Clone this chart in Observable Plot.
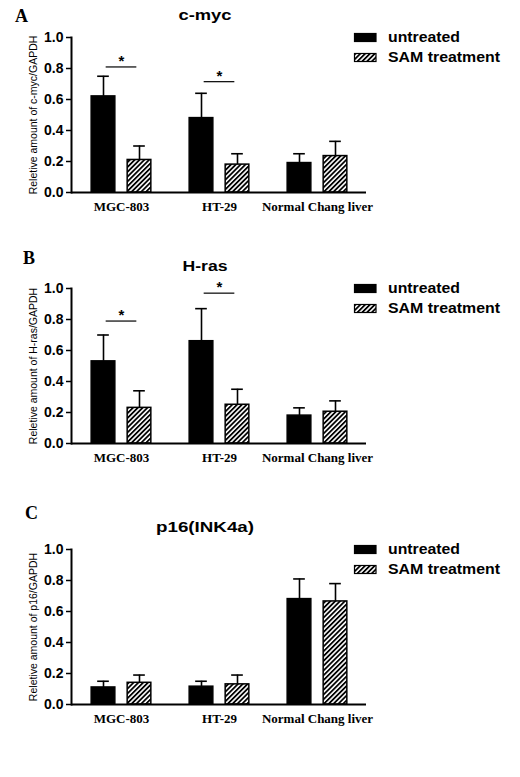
<!DOCTYPE html>
<html>
<head>
<meta charset="utf-8">
<script src="https://cdn.jsdelivr.net/npm/d3@7"></script>
<script src="https://cdn.jsdelivr.net/npm/@observablehq/plot@0.6"></script>
<style>
  body { margin: 0; background: #fff; }
  #page { position: relative; width: 520px; height: 777px; overflow: hidden; background: #fff; }
  .panel { position: absolute; left: 0; width: 520px; height: 250px; }
  .panel svg { position: absolute; left: 0; top: 0; }
  .panel svg.overlay { top: -20px; }
</style>
</head>
<body>
<svg width="0" height="0" style="position:absolute">
  <defs>
    <pattern id="hatch" patternUnits="userSpaceOnUse" width="3.4" height="3.4" patternTransform="rotate(45)">
      <rect width="3.4" height="3.4" fill="white"></rect>
      <line x1="0.9" y1="0" x2="0.9" y2="3.4" stroke="black" stroke-width="1.8"></line>
    </pattern>
  </defs>
</svg>
<div id="page"></div>
<script>
// Cell lines and treatments
const groups = ["MGC-803", "HT-29", "Normal Chang liver"];
const treatments = ["untreated", "SAM treatment"];
const yTicks = [0, 0.2, 0.4, 0.6, 0.8, 1.0];

// c-myc: means and error (SD) per cell line
const cmycUntreated = [0.62, 0.48, 0.19];
const cmycUntreatedErr = [0.13, 0.16, 0.06];
const cmycSam = [0.21, 0.18, 0.235];
const cmycSamErr = [0.09, 0.07, 0.095];
const cmycSig = [0.81, 0.715, null];

// H-ras
const hrasUntreated = [0.53, 0.66, 0.18];
const hrasUntreatedErr = [0.17, 0.21, 0.05];
const hrasSam = [0.23, 0.25, 0.205];
const hrasSamErr = [0.11, 0.10, 0.07];
const hrasSig = [0.79, 0.97, null];

// p16(INK4a)
const p16Untreated = [0.11, 0.115, 0.68];
const p16UntreatedErr = [0.04, 0.035, 0.13];
const p16Sam = [0.14, 0.13, 0.665];
const p16SamErr = [0.05, 0.06, 0.115];
const p16Sig = [null, null, null];

const panels = [
  {letter: "A", title: "c-myc", ylabel: "Reletive amount of c-myc/GAPDH",
   untreated: cmycUntreated, untreatedErr: cmycUntreatedErr, sam: cmycSam, samErr: cmycSamErr, sig: cmycSig,
   top: 0, letterX: 15, letterY: 22, titleY: 19.5, titleLen: 53, titleSize: 14},
  {letter: "B", title: "H-ras", ylabel: "Reletive amount of H-ras/GAPDH",
   untreated: hrasUntreated, untreatedErr: hrasUntreatedErr, sam: hrasSam, samErr: hrasSamErr, sig: hrasSig,
   top: 251, letterX: 23, letterY: 12.5, titleY: 20, titleLen: 45, titleSize: 14},
  {letter: "C", title: "p16(INK4a)", ylabel: "Reletive amount of p16/GAPDH",
   untreated: p16Untreated, untreatedErr: p16UntreatedErr, sam: p16Sam, samErr: p16SamErr, sig: p16Sig,
   top: 512, letterX: 25, letterY: 6.5, titleY: 19.5, titleLen: 98, titleSize: 15}
];

// layout
const W = 520, H = 222;
const ml = 71, mr = 154, mt = 37, mb = 30;
const half = (W - ml - mr) / groups.length / 2;
const barW = 24, gap = 12;
const off = gap / 2 + barW / 2;   // bar centre offset from group centre
const capW = 12, sigHalf = 15.5;
const ovShift = 20;               // overlay svg starts 20px above the panel

const sans = "'Liberation Sans', Arial, sans-serif";
const serif = "'Liberation Serif', 'Times New Roman', serif";

function drawPanel(p) {
  const rows = groups.flatMap((g, i) => [
    {group: g, treatment: treatments[0], value: p.untreated[i], err: p.untreatedErr[i]},
    {group: g, treatment: treatments[1], value: p.sam[i], err: p.samErr[i]}
  ]);
  const un = rows.filter(d => d.treatment === treatments[0]);
  const sam = rows.filter(d => d.treatment === treatments[1]);
  const sig = groups.map((g, i) => ({group: g, y: p.sig[i]})).filter(d => d.y != null);

  const plot = Plot.plot({
    width: W,
    height: H,
    marginLeft: ml,
    marginRight: mr,
    marginTop: mt,
    marginBottom: mb,
    style: {fontFamily: sans, fontSize: "10px", color: "black", background: "transparent"},
    x: {domain: groups, padding: 0},
    y: {domain: [0, 1]},
    marks: [
      // error bars (drawn first so bar tops cover the stems)
      Plot.ruleX(un, {x: "group", y1: "value", y2: d => d.value + d.err, dx: -off, stroke: "black", strokeWidth: 1.6}),
      Plot.ruleX(sam, {x: "group", y1: "value", y2: d => d.value + d.err, dx: off, stroke: "black", strokeWidth: 1.6}),
      Plot.tickY(un, {x: "group", y: d => d.value + d.err, insetLeft: half - off - capW / 2, insetRight: half + off - capW / 2, stroke: "black", strokeWidth: 1.6}),
      Plot.tickY(sam, {x: "group", y: d => d.value + d.err, insetLeft: half + off - capW / 2, insetRight: half - off - capW / 2, stroke: "black", strokeWidth: 1.6}),
      // bars
      Plot.barY(un, {x: "group", y: "value", fill: "black", stroke: "black", strokeWidth: 1.5,
        insetLeft: half - off - barW / 2, insetRight: half + off - barW / 2}),
      Plot.barY(sam, {x: "group", y: "value", fill: "url(#hatch)", stroke: "black", strokeWidth: 1.5,
        insetLeft: half + off - barW / 2, insetRight: half - off - barW / 2}),
      // significance brackets
      Plot.tickY(sig, {x: "group", y: "y", insetLeft: half - sigHalf, insetRight: half - sigHalf, stroke: "black", strokeWidth: 1.2}),
      Plot.text(sig, {x: "group", y: "y", text: () => "*", dy: -1, lineAnchor: "bottom", fontSize: 15, fontWeight: "bold", fill: "black"}),
      // axes
      Plot.ruleY([0], {stroke: "black", strokeWidth: 2}),
      Plot.frame({anchor: "left", stroke: "black", strokeWidth: 2}),
      Plot.axisY({ticks: yTicks, tickFormat: d3.format(".1f"), tickSize: 5, tickPadding: 3, strokeWidth: 1.5,
        fontSize: 14, fontWeight: "bold", label: null}),
      Plot.axisX({tickSize: 0, tickPadding: 9, fontSize: 13, fontWeight: "bold", fontFamily: serif, label: null}),
      Plot.text([p.ylabel], {frameAnchor: "left", rotate: -90, dx: -38, textAnchor: "middle", fontSize: 10.5, fill: "black"})
    ]
  });

  const div = document.createElement("div");
  div.className = "panel";
  div.style.top = p.top + "px";
  div.appendChild(plot);

  // letter, title and legend overlay
  const ov = d3.create("svg").attr("class", "overlay").attr("width", W).attr("height", 90);
  ov.append("text").attr("x", p.letterX).attr("y", p.letterY + ovShift)
    .attr("font-family", serif).attr("font-weight", "bold").attr("font-size", 18).text(p.letter);
  ov.append("text").attr("x", 205).attr("y", p.titleY + ovShift).attr("text-anchor", "middle")
    .attr("font-family", sans).attr("font-weight", "bold").attr("font-size", p.titleSize)
    .attr("textLength", p.titleLen).attr("lengthAdjust", "spacingAndGlyphs").text(p.title);
  const legLen = [72, 112];
  treatments.forEach((t, i) => {
    ov.append("rect").attr("x", 354.5).attr("y", 33.5 + i * 20 + ovShift).attr("width", 21.5).attr("height", 8)
      .attr("fill", i ? "url(#hatch)" : "black").attr("stroke", "black").attr("stroke-width", 1.2);
    ov.append("text").attr("x", 388).attr("y", 42 + i * 20 + ovShift)
      .attr("font-family", sans).attr("font-weight", "bold").attr("font-size", 14)
      .attr("textLength", legLen[i]).attr("lengthAdjust", "spacingAndGlyphs").text(t);
  });
  div.appendChild(ov.node());
  document.getElementById("page").appendChild(div);
}

panels.forEach(drawPanel);
</script>
</body>
</html>
